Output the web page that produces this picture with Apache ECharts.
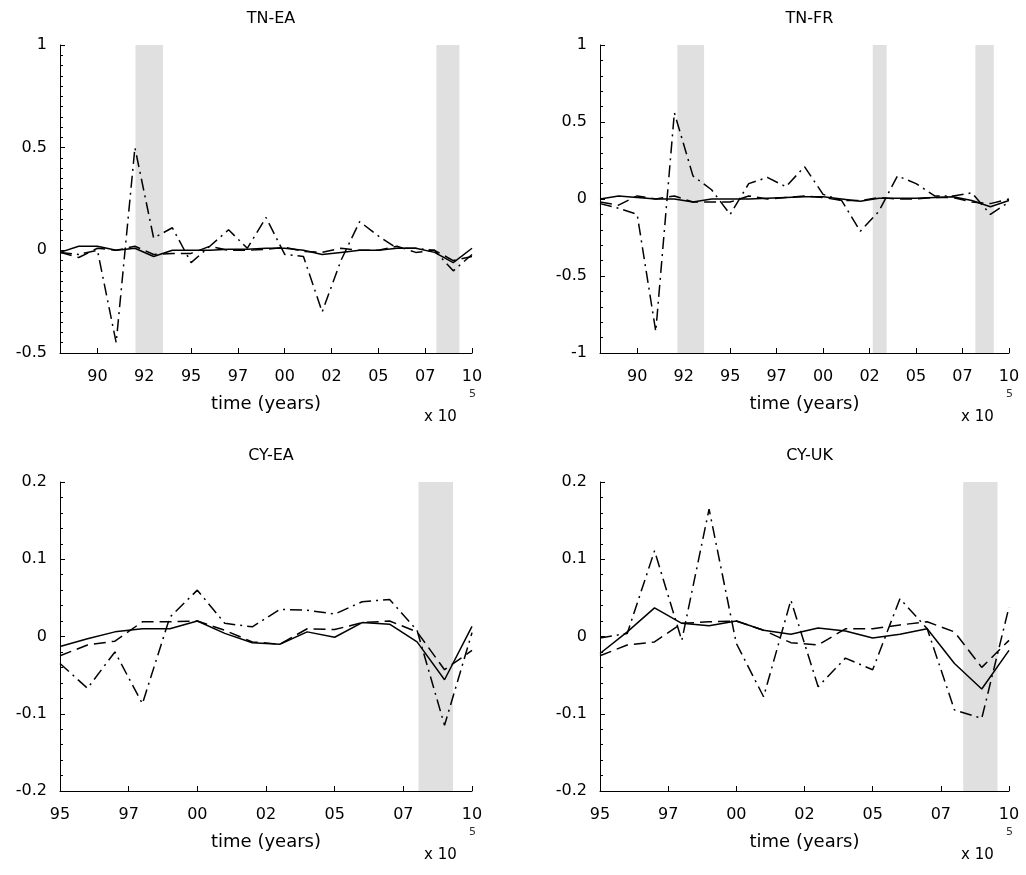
<!DOCTYPE html>
<html>
<head>
<meta charset="utf-8">
<script src="https://cdn.jsdelivr.net/npm/echarts@6/dist/echarts.min.js"></script>
<style>
  html, body { margin: 0; padding: 0; background: #fff; }
  #chart { width: 1026px; height: 875px; }
</style>
</head>
<body>
<div id="chart"></div>
<script>
// Annual observations
const yearsTN = [1988, 1989, 1990, 1991, 1992, 1993, 1994, 1995, 1996, 1997, 1998, 1999,
                 2000, 2001, 2002, 2003, 2004, 2005, 2006, 2007, 2008, 2009, 2010];
const yearsCY = [1995, 1996, 1997, 1998, 1999, 2000, 2001, 2002,
                 2003, 2004, 2005, 2006, 2007, 2008, 2009, 2010];

// Tick positions and labels on the time axis
const ticksTN = [1990, 1992.5, 1995, 1997.5, 2000, 2002.5, 2005, 2007.5, 2010];
const ticksCY = [1995, 1997.5, 2000, 2002.5, 2005, 2007.5, 2010];

// TN-EA
const tnEaSolid   = [-0.01, 0.02, 0.02, 0.0, 0.01, -0.03, 0.0, 0.0, 0.0, 0.005, 0.005, 0.01,
                     0.01, 0.0, -0.02, -0.01, 0.0, 0.0, 0.01, 0.01, -0.01, -0.06, 0.01];
const tnEaDashed  = [-0.01, -0.035, 0.01, 0.0, 0.02, -0.02, -0.015, -0.015, 0.02, 0.0, 0.0, 0.005,
                     0.015, -0.005, -0.01, 0.01, 0.0, 0.0, 0.02, -0.01, 0.0, -0.05, -0.03];
const tnEaDashDot = [-0.01, -0.02, 0.0, -0.45, 0.50, 0.06, 0.11, -0.06, 0.02, 0.10, 0.01, 0.16,
                     -0.02, -0.03, -0.30, -0.05, 0.14, 0.07, 0.01, 0.01, 0.0, -0.10, -0.02];
const tnEaBands   = [[1992.03, 1993.5], [2008.1, 2009.33]];

// TN-FR
const tnFrSolid   = [0.0, 0.02, 0.01, 0.0, 0.0, -0.02, 0.0, 0.0, 0.0, 0.005, 0.01, 0.015,
                     0.015, 0.0, -0.015, 0.005, 0.005, 0.005, 0.01, 0.015, -0.01, -0.05, -0.01];
const tnFrDashed  = [-0.02, -0.04, 0.02, 0.0, 0.02, -0.02, -0.02, -0.02, 0.02, 0.0, 0.01, 0.02,
                     0.01, -0.01, -0.01, 0.01, 0.0, 0.0, 0.01, 0.01, -0.02, -0.03, 0.0];
const tnFrDashDot = [-0.03, -0.06, -0.10, -0.86, 0.56, 0.15, 0.06, -0.10, 0.10, 0.14, 0.08, 0.21,
                     0.03, -0.01, -0.21, -0.08, 0.15, 0.10, 0.02, 0.02, 0.04, -0.10, -0.02];
const tnFrBands   = [[1992.16, 1993.6], [2002.67, 2003.42], [2008.19, 2009.18]];

// CY-EA
const cyEaSolid   = [-0.013, -0.003, 0.006, 0.01, 0.01, 0.02, 0.004, -0.008,
                     -0.01, 0.006, -0.001, 0.018, 0.016, -0.007, -0.056, 0.013];
const cyEaDashed  = [-0.025, -0.011, -0.006, 0.019, 0.019, 0.02, 0.008, -0.007,
                     -0.01, 0.01, 0.009, 0.018, 0.02, 0.006, -0.043, -0.018];
const cyEaDashDot = [-0.035, -0.067, -0.02, -0.087, 0.025, 0.06, 0.017, 0.0125,
                     0.035, 0.034, 0.029, 0.045, 0.048, 0.008, -0.115, 0.005];
const cyEaBands   = [[2008.05, 2009.31]];

// CY-UK
const cyUkSolid   = [-0.022, 0.006, 0.037, 0.017, 0.014, 0.02, 0.008, 0.003,
                     0.011, 0.007, -0.002, 0.003, 0.010, -0.035, -0.068, -0.018];
const cyUkDashed  = [-0.025, -0.011, -0.007, 0.017, 0.019, 0.02, 0.008, -0.008,
                     -0.011, 0.01, 0.01, 0.015, 0.019, 0.006, -0.04, -0.005];
const cyUkDashDot = [-0.002, 0.004, 0.111, -0.005, 0.165, -0.009, -0.078, 0.047,
                     -0.065, -0.028, -0.043, 0.049, 0.01, -0.095, -0.106, 0.038];
const cyUkBands   = [[2008.32, 2009.58]];

const FONT = '"DejaVu Sans", Verdana, sans-serif';

const panels = [
  { title: 'TN-EA', years: yearsTN, ticks: ticksTN, xMin: 1988, xMax: 2010,
    yMin: -0.5, yMax: 1, yStep: 0.5, minor: 10,
    lines: [tnEaSolid, tnEaDashed, tnEaDashDot], bands: tnEaBands,
    grid: { left: 60, top: 45, width: 412, height: 308 } },
  { title: 'TN-FR', years: yearsTN, ticks: ticksTN, xMin: 1988, xMax: 2010,
    yMin: -1, yMax: 1, yStep: 0.5, minor: 5,
    lines: [tnFrSolid, tnFrDashed, tnFrDashDot], bands: tnFrBands,
    grid: { left: 600, top: 45, width: 409, height: 308 } },
  { title: 'CY-EA', years: yearsCY, ticks: ticksCY, xMin: 1995, xMax: 2010,
    yMin: -0.2, yMax: 0.2, yStep: 0.1, minor: 5,
    lines: [cyEaSolid, cyEaDashed, cyEaDashDot], bands: cyEaBands,
    grid: { left: 60, top: 482, width: 412, height: 309 } },
  { title: 'CY-UK', years: yearsCY, ticks: ticksCY, xMin: 1995, xMax: 2010,
    yMin: -0.2, yMax: 0.2, yStep: 0.1, minor: 5,
    lines: [cyUkSolid, cyUkDashed, cyUkDashDot], bands: cyUkBands,
    grid: { left: 600, top: 482, width: 409, height: 309 } }
];

const lineStyles = [
  { type: 'solid' },
  { type: [12, 6] },
  { type: [12, 5, 2, 5] }
];

const yearLabel = v => String(Math.floor(v + 1e-6) % 100).padStart(2, '0');

const option = {
  animation: false,
  backgroundColor: '#ffffff',
  title: [], grid: [], xAxis: [], yAxis: [], series: [], graphic: []
};

panels.forEach((p, i) => {
  const g = p.grid;
  option.grid.push(Object.assign({ containLabel: false }, g));
  option.title.push({
    text: p.title, left: g.left + g.width / 2, top: g.top - 39, textAlign: 'center',
    textStyle: { fontFamily: FONT, fontSize: 16, fontWeight: 'normal', color: '#000' }
  });
  option.xAxis.push({
    type: 'value', gridIndex: i, min: p.xMin, max: p.xMax,
    name: 'time (years)', nameLocation: 'middle', nameGap: 42,
    nameTextStyle: { fontFamily: FONT, fontSize: 18, color: '#000' },
    axisLine: { show: true, onZero: false, lineStyle: { color: '#000', width: 1 } },
    axisTick: { show: true, inside: true, length: 5, customValues: p.ticks,
                lineStyle: { color: '#000' } },
    axisLabel: { customValues: p.ticks, formatter: yearLabel, margin: 16,
                 fontFamily: FONT, fontSize: 16, color: '#000' },
    splitLine: { show: false }
  });
  option.yAxis.push({
    type: 'value', gridIndex: i, min: p.yMin, max: p.yMax, interval: p.yStep,
    axisLine: { show: true, onZero: false, lineStyle: { color: '#000', width: 1 } },
    axisTick: { show: true, inside: true, length: 5, lineStyle: { color: '#000' } },
    minorTick: { show: true, splitNumber: p.minor, length: 3, lineStyle: { color: '#000' } },
    axisLabel: { margin: 13, fontFamily: FONT, fontSize: 16, color: '#000' },
    splitLine: { show: false }
  });
  // shaded periods
  option.series.push({
    type: 'line', xAxisIndex: i, yAxisIndex: i, data: [], silent: true, z: 1,
    markArea: {
      silent: true,
      itemStyle: { color: '#e0e0e0' },
      data: p.bands.map(b => [{ xAxis: b[0] }, { xAxis: b[1] }])
    }
  });
  p.lines.forEach((vals, k) => {
    option.series.push({
      type: 'line', xAxisIndex: i, yAxisIndex: i, z: 3,
      data: p.years.map((y, j) => [y, vals[j]]),
      showSymbol: false, symbol: 'none', smooth: false,
      lineStyle: Object.assign({ color: '#000', width: 1.5 }, lineStyles[k])
    });
  });
  // axis multiplier note
  const right = g.left + g.width;
  const bottom = g.top + g.height;
  option.graphic.push({
    type: 'text', left: right - 3, top: bottom + 36,
    style: { text: '5', fontFamily: FONT, fontSize: 11, fill: '#333' }
  });
  option.graphic.push({
    type: 'text', left: right - 48, top: bottom + 57,
    style: { text: 'x 10', fontFamily: FONT, fontSize: 15, fill: '#000' }
  });
});

const chart = echarts.init(document.getElementById('chart'), null, { renderer: 'canvas' });
chart.setOption(option);
</script>
</body>
</html>
